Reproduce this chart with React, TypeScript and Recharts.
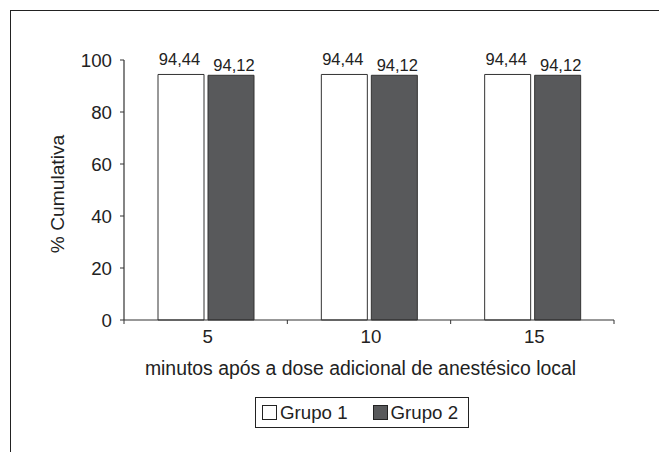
import React from 'react';
import { BarChart, Bar, XAxis, YAxis, Legend, LabelList } from 'recharts';

const CATEGORIES = ['5', '10', '15'];
const GRUPO1 = [94.44, 94.44, 94.44];
const GRUPO2 = [94.12, 94.12, 94.12];
const Y_TICKS = [0, 20, 40, 60, 80, 100];
const SERIES_NAMES = ['Grupo 1', 'Grupo 2'];

const data = CATEGORIES.map((c, i) => ({ cat: c, g1: GRUPO1[i], g2: GRUPO2[i] }));

const FONT = '"Liberation Sans", Arial, Helvetica, sans-serif';
const INK = '#222';
const LINE = '#333';
const DARK = '#58595b';

const fmt = (v: number) => v.toFixed(2).replace('.', ',');

const XTick = (props: any) => {
  const { x, y, payload, index, width, visibleTicksCount } = props;
  const band = width / visibleTicksCount;
  const half = band / 2;
  return (
    <g>
      <line x1={x - half} x2={x - half} y1={y} y2={y + 4} stroke={LINE} strokeWidth={1} />
      {index === visibleTicksCount - 1 && (
        <line x1={x + half} x2={x + half} y1={y} y2={y + 4} stroke={LINE} strokeWidth={1} />
      )}
      <text x={x + 2} y={y + 23} textAnchor="middle" fontSize={18.7} fill={INK} fontFamily={FONT}>
        {payload.value}
      </text>
    </g>
  );
};

const makeValueLabel = (dy: number, dx: number) => (props: any) => {
  const { x, y, width, value } = props;
  return (
    <text x={x + width / 2 + dx} y={y - dy} textAnchor="middle" fontSize={16.5} fill={INK} fontFamily={FONT}>
      {fmt(Number(value))}
    </text>
  );
};

const LegendBox = () => (
  <div style={{ position: 'relative', width: 659, height: 30, fontFamily: FONT }}>
    <div
      style={{
        position: 'absolute',
        left: 255,
        top: 0,
        border: `1.5px solid ${INK}`,
        display: 'flex',
        alignItems: 'center',
        height: 31,
        width: 214,
        paddingLeft: 6,
        boxSizing: 'border-box',
        background: '#fff',
      }}
    >
      {SERIES_NAMES.map((n, i) => (
        <div key={n} style={{ display: 'flex', alignItems: 'center', marginRight: i === 0 ? 25 : 0 }}>
          <span
            style={{
              display: 'inline-block',
              width: 15,
              height: 15,
              border: `1px solid ${INK}`,
              background: i === 0 ? '#fff' : DARK,
              marginRight: 3,
              boxSizing: 'border-box',
            }}
          />
          <span style={{ fontSize: 18.7, color: INK, lineHeight: '20px' }}>{n}</span>
        </div>
      ))}
    </div>
  </div>
);

export default function App() {
  return (
    <div
      style={{
        position: 'absolute',
        left: 0,
        top: 0,
        width: 659,
        height: 452,
        overflow: 'hidden',
        background: '#fff',
      }}
    >
      <div
        style={{
          position: 'absolute',
          left: 10,
          top: 10,
          width: 700,
          height: 500,
          borderLeft: `1.5px solid ${INK}`,
          borderTop: `1.5px solid ${INK}`,
        }}
      />
      <div style={{ position: 'absolute', left: 0, top: 0 }}>
        <BarChart
          width={659}
          height={452}
          data={data}
          margin={{ top: 60, right: 45, bottom: 40, left: 10 }}
          barGap={4}
          barCategoryGap={34}
        >
          <XAxis
            dataKey="cat"
            height={62}
            tickLine={false}
            tickSize={0}
            tickMargin={0}
            axisLine={{ stroke: LINE, strokeWidth: 1.2 }}
            tick={<XTick />}
            interval={0}
            label={(p: any) => {
              const vb = p.viewBox;
              return (
                <text
                  x={vb.x + vb.width / 2 - 8.5}
                  y={vb.y + 54.5}
                  textAnchor="middle"
                  fontSize={19.4}
                  fill={INK}
                  fontFamily={FONT}
                >
                  minutos após a dose adicional de anestésico local
                </text>
              );
            }}
          />
          <YAxis
            width={114}
            domain={[0, 100]}
            ticks={Y_TICKS}
            interval={0}
            tickSize={4}
            tickMargin={8}
            axisLine={{ stroke: LINE, strokeWidth: 1.2 }}
            tickLine={{ stroke: LINE }}
            tick={{ fontSize: 18.7, fill: INK, fontFamily: FONT }}
            label={(p: any) => {
              const vb = p.viewBox;
              const cx = vb.x + 47;
              const cy = vb.y + vb.height / 2 + 4;
              return (
                <text
                  x={cx}
                  y={cy}
                  transform={`rotate(-90 ${cx} ${cy})`}
                  textAnchor="middle"
                  dominantBaseline="central"
                  fontSize={19.2}
                  fill={INK}
                  fontFamily={FONT}
                >
                  % Cumulativa
                </text>
              );
            }}
          />
          <Legend
            verticalAlign="bottom"
            height={30}
            content={<LegendBox />}
            wrapperStyle={{ top: 397, left: 0, bottom: 'auto', width: 659 }}
          />
          <Bar dataKey="g1" name={SERIES_NAMES[0]} fill="#fff" stroke={LINE} strokeWidth={1} isAnimationActive={false}>
            <LabelList dataKey="g1" content={makeValueLabel(9, -1.5)} />
          </Bar>
          <Bar dataKey="g2" name={SERIES_NAMES[1]} fill={DARK} stroke={LINE} strokeWidth={1} isAnimationActive={false}>
            <LabelList dataKey="g2" content={makeValueLabel(4.5, 3)} />
          </Bar>
        </BarChart>
      </div>
    </div>
  );
}
